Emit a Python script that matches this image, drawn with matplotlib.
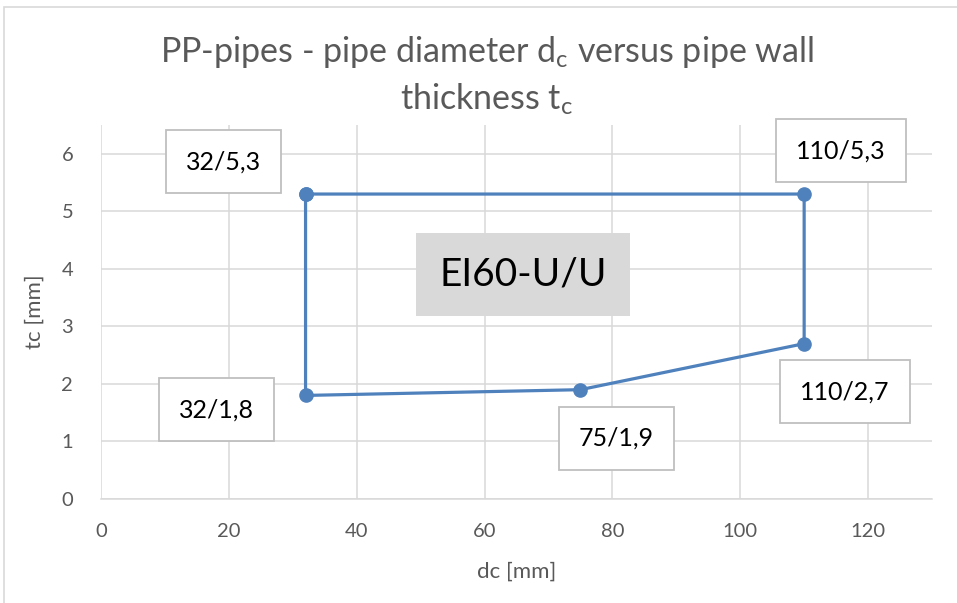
import matplotlib.pyplot as plt
from matplotlib.patches import Rectangle

# pipe diameter dc [mm] and wall thickness tc [mm], traced round the EI60-U/U area
dc = [32, 110, 110, 75, 32, 32]
tc = [5.3, 5.3, 2.7, 1.9, 1.8, 5.3]
x_ticks = [0, 20, 40, 60, 80, 100, 120]
y_ticks = [0, 1, 2, 3, 4, 5, 6]

# where the label boxes sit (data coordinates), one per corner point
label_pos = [(19.1, 5.86), (115.8, 6.05), (116.4, 1.86), (80.6, 1.06), (18.0, 1.55)]

grey = "#595959"
grid = "#D9D9D9"
blue = "#4F81BD"
fam = ["Lato", "DejaVu Sans"]

fig = plt.figure(figsize=(9.57, 6.03), dpi=100)
ax = fig.add_axes([101/957, 1 - 499/603, 831/957, 374/603])

ax.plot(dc, tc, color=blue, lw=2.3, marker="o", ms=9.5, zorder=3)

ax.set_xlim(0, 130)
ax.set_ylim(0, 6.5)
ax.set_xticks(x_ticks)
ax.set_yticks(y_ticks)
ax.grid(True, color=grid, lw=1.1)
ax.set_axisbelow(True)
for s in ["top", "right", "left"]:
    ax.spines[s].set_visible(False)
ax.spines["bottom"].set_color(grid)
ax.spines["bottom"].set_linewidth(1.1)
ax.tick_params(length=0, labelsize=14.5, labelcolor=grey, pad=17)
ax.tick_params(axis="y", pad=20)
for t in ax.get_xticklabels() + ax.get_yticklabels():
    t.set_family(fam)

ax.set_xlabel("dc [mm]", fontsize=16, color=grey, labelpad=16, family=fam)
ax.set_ylabel("tc [mm]", fontsize=16, color=grey, labelpad=12, family=fam)

# corner labels "d/t" with comma decimals
for (x, y), (lx, ly) in zip(zip(dc[:-1], tc[:-1]), label_pos):
    txt = f"{x}/{y}".replace(".", ",")
    ax.text(lx, ly, txt, fontsize=18, ha="center", va="center", family=fam,
            color="black", zorder=4,
            bbox=dict(boxstyle="square,pad=0.8", fc="white", ec="#BFBFBF", lw=1.3))

ax.text(66.0, 3.9, "EI60-U/U", fontsize=28, ha="center", va="center", family=fam,
        color="black", zorder=4,
        bbox=dict(boxstyle="square,pad=0.6", fc="#D9D9D9", ec="none"))

fig.text(487/957, 1 - 52/603, "PP-pipes - pipe diameter d$_\\mathregular{c}$ versus pipe wall",
         fontsize=24.5, color=grey, ha="center", va="center", family=fam)
fig.text(487/957, 1 - 99/603, "thickness t$_\\mathregular{c}$",
         fontsize=24.5, color=grey, ha="center", va="center", family=fam)

# chart area border
fig.add_artist(Rectangle((4/957, -0.01), 1.0, 1 - 7/603 + 0.01, transform=fig.transFigure,
                         fill=False, ec=grid, lw=1.2))

fig.savefig("out.png", dpi=100)
